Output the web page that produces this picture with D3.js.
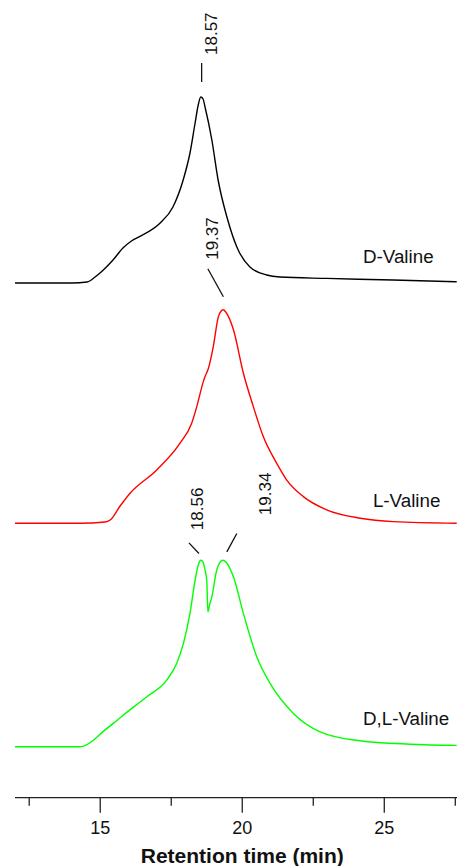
<!DOCTYPE html>
<html>
<head>
<meta charset="utf-8">
<script src="https://cdn.jsdelivr.net/npm/d3@7"></script>
<style>
  body { margin: 0; background: #fff; }
  text { font-family: "Liberation Sans", Arial, sans-serif; fill: #111; }
  .trace { fill: none; stroke-width: 1.4; }
  .leader { stroke: #111; stroke-width: 1.3; }
  .axis path, .axis line { stroke: #222; stroke-width: 1.3; }
</style>
</head>
<body>
<div id="chart"></div>
<script>
// retention time (min) and detector signal above baseline (arbitrary units)
const timeD = [12.0, 14.0, 14.54, 14.82, 15.11, 15.45, 15.8, 16.1, 16.4, 17.11, 17.56, 17.92, 18.16, 18.34, 18.45, 18.54, 18.62, 18.69, 18.93, 19.15, 19.46, 19.81, 20.27, 20.86, 21.33, 22.97, 25.31, 27.55];
const signalD = [0, 0, 0.5, 3, 6.5, 11.5, 17.5, 21, 23.3, 30, 38, 51.5, 65, 80, 89, 93, 92, 88, 71.5, 51.5, 33, 18, 8, 4, 3, 2.3, 1.5, 0.6];

const timeL = [12.0, 14.29, 15.17, 15.35, 15.7, 16.05, 16.99, 17.81, 18.22, 18.4, 18.63, 18.69, 18.81, 18.98, 19.16, 19.25, 19.33, 19.42, 19.69, 20.04, 20.39, 20.74, 21.21, 21.56, 22.15, 22.97, 24.15, 25.32, 27.55];
const signalL = [0, 0, 0.6, 1.6, 8.6, 15, 26.6, 40, 50, 58.3, 70.8, 73.3, 77.5, 88.3, 103.3, 106, 106.7, 105.6, 96.7, 75, 58.3, 43.3, 30, 21.7, 13.3, 6.7, 2.5, 0.8, 0];

const timeDL = [12.0, 14.29, 14.5, 14.76, 15.1, 15.46, 15.81, 16.64, 17.34, 17.69, 17.93, 18.16, 18.34, 18.45, 18.54, 18.62, 18.69, 18.75, 18.79, 18.85, 18.93, 19.1, 19.22, 19.31, 19.43, 19.69, 20.04, 20.51, 20.98, 21.8, 22.74, 24.15, 25.91, 27.55];
const signalDL = [0, 0, 0.8, 3.3, 7.6, 11.7, 15.8, 25, 33.3, 41.7, 51.7, 66.7, 83.3, 90.8, 93.3, 92.3, 88.3, 83.3, 67.5, 71, 75, 88.3, 92.3, 93.3, 92.3, 85, 66.7, 45, 31.7, 16.7, 7.5, 3, 1.3, 0.7];

const names = ["D-Valine", "L-Valine", "D,L-Valine"];
const colors = ["#000000", "#ff0000", "#00ff00"];
const offsets = [253.5, 133.4, 21.6];   // vertical stacking of the traces

const peakLabels = ["18.57", "19.37", "18.56", "19.34"];
const peakTraces = [0, 1, 2, 2];

const majorTicks = [15, 20, 25];
const minorTicks = [12.5, 17.5, 22.5, 27.5];

const W = 457, H = 866;
const svg = d3.select("#chart").append("svg").attr("width", W).attr("height", H);

const x = d3.scaleLinear().domain([12, 27.56]).range([15, 457]);
const y = d3.scaleLinear().domain([0, 395]).range([790, 0]);

const traces = [
  timeD.map((t, i) => ({t: t, v: signalD[i]})),
  timeL.map((t, i) => ({t: t, v: signalL[i]})),
  timeDL.map((t, i) => ({t: t, v: signalDL[i]}))
];

traces.forEach((tr, k) => {
  const line = d3.line()
    .x(d => x(d.t))
    .y(d => y(d.v + offsets[k]))
    .curve(d3.curveMonotoneX);
  svg.append("path")
    .datum(tr)
    .attr("class", "trace")
    .attr("stroke", colors[k])
    .attr("d", line);
});

// trace names, just above each baseline on the right
const namePos = [{t: 24.25, dy: -20}, {t: 24.6, dy: -16}, {t: 24.25, dy: -22}];
names.forEach((n, k) => {
  svg.append("text")
    .attr("x", x(namePos[k].t))
    .attr("y", y(offsets[k]) + namePos[k].dy)
    .style("font-size", "18.8px")
    .text(n);
});

// peak annotations: leader line + rotated label, placed relative to the peak
const geom = [
  {l: [0, -34, 0, -15], tx: 15, ty: -42},
  {l: [-16.5, -41, -1, -13], tx: -6, ty: -50},
  {l: [-12.4, -17.3, -2.4, -6.7], tx: 1.3, ty: -30},
  {l: [13.3, -26.7, 3.3, -8.3], tx: 47.3, ty: -45}
];
peakLabels.forEach((lab, i) => {
  const t = +lab, k = peakTraces[i];
  const near = traces[k].filter(d => Math.abs(d.t - t) < 0.15);
  const px = x(t), py = y(d3.max(near, d => d.v) + offsets[k]);
  const g = geom[i];
  svg.append("line").attr("class", "leader")
    .attr("x1", px + g.l[0]).attr("y1", py + g.l[1])
    .attr("x2", px + g.l[2]).attr("y2", py + g.l[3]);
  svg.append("text")
    .attr("transform", "translate(" + (px + g.tx) + "," + (py + g.ty) + ") rotate(-90)")
    .style("font-size", "17px")
    .text(lab);
});

// x axis
const axisY = 797.7;
const axisG = svg.append("g").attr("class", "axis");
axisG.append("line").attr("x1", x(12)).attr("x2", x(27.56)).attr("y1", axisY).attr("y2", axisY);
axisG.selectAll(".major").data(majorTicks).join("line")
  .attr("x1", d => x(d)).attr("x2", d => x(d))
  .attr("y1", axisY).attr("y2", axisY + 15);
axisG.selectAll(".minor").data(minorTicks).join("line")
  .attr("x1", d => x(d)).attr("x2", d => x(d))
  .attr("y1", axisY).attr("y2", axisY + 8);
axisG.selectAll(".tl").data(majorTicks).join("text")
  .attr("x", d => x(d)).attr("y", 834)
  .attr("text-anchor", "middle")
  .style("font-size", "18px")
  .text(d => d);

svg.append("text")
  .attr("x", x(20)).attr("y", 863)
  .attr("text-anchor", "middle")
  .style("font-size", "21px").style("font-weight", "bold")
  .text("Retention time (min)");
</script>
</body>
</html>
